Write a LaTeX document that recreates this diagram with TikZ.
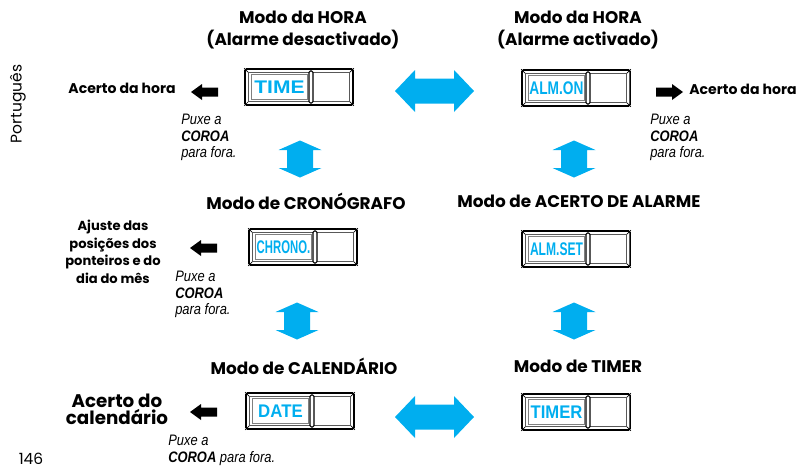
\documentclass[tikz,border=0pt]{standalone}
\usepackage{graphicx}
\usepackage{fontspec}
\setmainfont{Poppins}
\newfontfamily\narrowfont[FakeStretch=0.85]{Liberation Sans}
\newfontfamily\lcdfont{Liberation Sans}
\usetikzlibrary{calc}
\definecolor{lcdblue}{RGB}{0,174,239}

\tikzset{
  titulo/.style={font=\bfseries\fontsize{12}{15}\selectfont, align=center, inner sep=0},
  rotulo/.style={font=\bfseries\fontsize{10}{12.5}\selectfont, align=center, inner sep=0},
  puxe/.style={font=\narrowfont\itshape\fontsize{10.8}{11.6}\selectfont, align=left, anchor=north west, inner sep=0},
  visor/.style={draw, line width=1.1pt, rounded corners=1pt, minimum width=2.7cm, minimum height=0.9cm, inner sep=0},
  lcdtxt/.style={font=\lcdfont\bfseries\fontsize{13}{13}\selectfont, text=lcdblue, inner sep=0},
  setapreta/.pic={\fill (0,0) -- (11,-8) -- (11,-4.5) -- (27,-4.5) -- (27,4.5) -- (11,4.5) -- (11,8) -- cycle;},
  setadupla/.pic={\fill[lcdblue] (-39.5,0) -- (-19.5,-21) -- (-19.5,-12.5) -- (19.5,-12.5) -- (19.5,-21)
      -- (39.5,0) -- (19.5,21) -- (19.5,12.5) -- (-19.5,12.5) -- (-19.5,21) -- cycle;},
  setavertical/.pic={\fill[lcdblue] (0,-18.5) -- (21.5,-9) -- (13,-9) -- (13,9) -- (21.5,9)
      -- (0,18.5) -- (-21.5,9) -- (-13,9) -- (-13,-9) -- (-21.5,-9) -- cycle;}
}

\begin{document}
\begin{tikzpicture}[x=0.025cm, y=-0.025cm]
  \useasboundingbox (0,0) rectangle (800,469);
  % Display: name, position, text, horizontal squeeze
  \def\mostrador#1#2#3#4{%
    \node[visor] (#1) at #2 {};
    \draw[gray!70!black, line width=0.5pt] ($(#1.north west)+(4,4)$) rectangle ($(#1.south east)+(-4,-4)$);
    \draw[line width=0.5pt] (#1.north west) -- ($(#1.north west)+(4,4)$);
    \draw[line width=0.5pt] (#1.north east) -- ($(#1.north east)+(-4,4)$);
    \draw[line width=0.5pt] (#1.south west) -- ($(#1.south west)+(4,-4)$);
    \draw[line width=0.5pt] (#1.south east) -- ($(#1.south east)+(-4,-4)$);
    \draw[gray, line width=0.4pt] ($(#1.north west)+(7,6)$) rectangle ($(#1.center)+(8,12)$);
    \node[lcdtxt] at ($(#1.center)+(-19.5,0.5)$) {\scalebox{#4}[1]{#3}};
    \draw[line width=0.8pt, fill=white, rounded corners=1pt] ($(#1.center)+(10,-16)$) rectangle ($(#1.center)+(14,16)$);
  }

  % Headings
  \node[titulo] (h1) at (303,30) {Modo da HORA\\(Alarme desactivado)};
  \node[titulo] (h2) at (578,30) {Modo da HORA\\(Alarme activado)};
  \node[titulo] (h3) at (306,201) {Modo de CRONÓGRAFO};
  \node[titulo] (h4) at (579,201) {Modo de ACERTO DE ALARME};
  \node[titulo] (h5) at (304,366) {Modo de CALENDÁRIO};
  \node[titulo] (h6) at (578,366) {Modo de TIMER};

  % Displays
  \mostrador{time}{(299,87)}{TIME}{1.15}
  \mostrador{almon}{(576,88)}{ALM.ON}{0.75}
  \mostrador{chrono}{(303,247)}{CHRONO.}{0.62}
  \mostrador{almset}{(576,249)}{ALM.SET}{0.66}
  \mostrador{date}{(300,411)}{DATE}{0.92}
  \mostrador{timer}{(576,412)}{TIMER}{0.91}

  % Blue arrows
  \pic at (434.5,91) {setadupla};
  \pic at (434.5,417) {setadupla};
  \pic at (300,159) {setavertical};
  \pic at (574,159) {setavertical};
  \pic at (297,321) {setavertical};
  \pic at (574,321) {setavertical};

  % Black arrows
  \pic at (191,92) {setapreta};
  \pic at (190,248) {setapreta};
  \pic at (190,412) {setapreta};
  \pic[rotate=180] at (683,92) {setapreta};

  % Side labels
  \node[rotulo, anchor=east] (horaesq) at (176,88) {Acerto da hora};
  \node[rotulo, anchor=west] (horadir) at (689,89) {Acerto da hora};
  \node[rotulo, font=\bfseries\fontsize{9.3}{12.5}\selectfont] (ajuste) at (113,252) {Ajuste das\\posições dos\\ponteiros e do\\dia do mês};
  \node[rotulo, font=\bfseries\fontsize{13}{12}\selectfont] (calend) at (117,409) {Acerto do\\calendário};

  % Crown notes
  \node[puxe] (p1) at (181,114) {Puxe a\\\textbf{COROA}\\para fora.};
  \node[puxe] (p2) at (650,114) {Puxe a\\\textbf{COROA}\\para fora.};
  \node[puxe] (p3) at (175,271) {Puxe a\\\textbf{COROA}\\para fora.};
  \node[puxe] (p4) at (168,435) {Puxe a\\\textbf{COROA} para fora.};

  % Page marks
  \node[rotate=90, font=\fontsize{11}{13}\selectfont, inner sep=0] (lingua) at (18,104) {Português};
  \node[font=\fontsize{11}{13}\selectfont, inner sep=0] (pagina) at (31,459) {146};
\end{tikzpicture}
\end{document}
